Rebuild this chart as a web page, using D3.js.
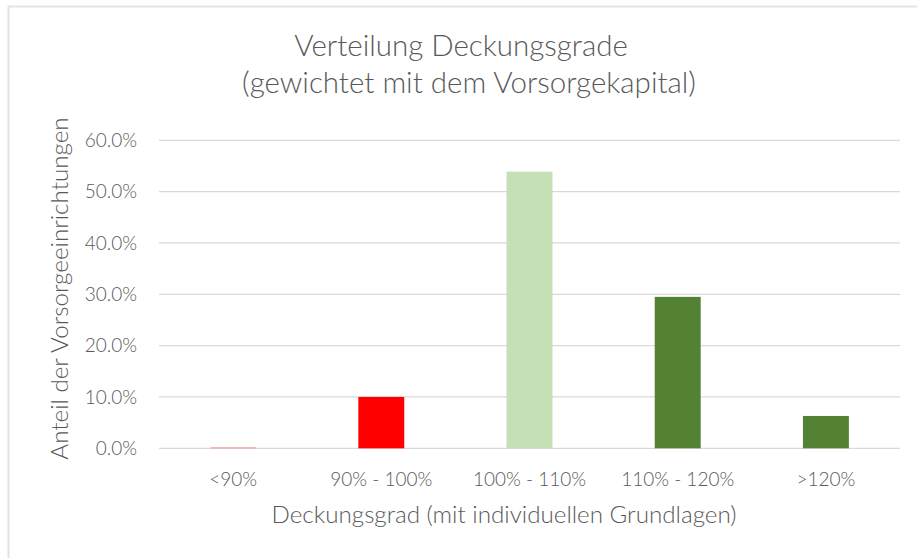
<!DOCTYPE html>
<html>
<head>
<meta charset="utf-8">
<script src="https://cdn.jsdelivr.net/npm/d3@7"></script>
<style>
  body { margin: 0; background: #fff; }
  svg text { font-family: Lato, "Open Sans", sans-serif; font-weight: 300; fill: #595959; }
</style>
</head>
<body>
<script>
// categories and values (share in %)
const categories = ["<90%", "90% - 100%", "100% - 110%", "110% - 120%", ">120%"];
const shares = [0.2, 10.0, 53.9, 29.5, 6.3];
const barColors = ["#FF0000", "#FF0000", "#C5E0B4", "#548235", "#548235"];
const yTicks = [0, 10, 20, 30, 40, 50, 60];
const titleLines = ["Verteilung Deckungsgrade", "(gewichtet mit dem Vorsorgekapital)"];

const width = 917, height = 558;
const plot = { left: 159, right: 900, top: 140.3, bottom: 448.3 };

const svg = d3.select("body").append("svg")
  .attr("width", width)
  .attr("height", height);

// chart frame (only top and left edge visible)
svg.append("path")
  .attr("d", `M8.5,${height} V6.5 H${width}`)
  .attr("fill", "none")
  .attr("stroke", "#e3e3e3")
  .attr("stroke-width", 2);

const x = d3.scaleBand()
  .domain(categories)
  .range([plot.left, plot.right])
  .paddingInner(0.69)
  .paddingOuter(0.345);

const y = d3.scaleLinear()
  .domain([0, 60])
  .range([plot.bottom, plot.top]);

// gridlines
svg.append("g")
  .selectAll("line")
  .data(yTicks)
  .join("line")
  .attr("x1", plot.left)
  .attr("x2", plot.right)
  .attr("y1", d => y(d))
  .attr("y2", d => y(d))
  .attr("stroke", "#d9d9d9")
  .attr("stroke-width", 1.3);

// y tick labels
svg.append("g")
  .selectAll("text")
  .data(yTicks)
  .join("text")
  .attr("x", 137)
  .attr("y", d => y(d))
  .attr("dy", "0.35em")
  .attr("text-anchor", "end")
  .attr("font-size", 19)
  .text(d => d.toFixed(1) + "%");

// bars
svg.append("g")
  .selectAll("rect")
  .data(shares)
  .join("rect")
  .attr("x", (d, i) => x(categories[i]))
  .attr("width", x.bandwidth())
  .attr("y", d => y(d))
  .attr("height", d => y(0) - y(d))
  .attr("fill", (d, i) => barColors[i])
  .attr("opacity", (d, i) => i === 0 ? 0.35 : 1);

// x tick labels
svg.append("g")
  .selectAll("text")
  .data(categories)
  .join("text")
  .attr("x", d => x(d) + x.bandwidth() / 2)
  .attr("y", 486)
  .attr("text-anchor", "middle")
  .attr("font-size", 19)
  .text(d => d);

// title
svg.append("text")
  .attr("text-anchor", "middle")
  .attr("font-size", 29.5)
  .selectAll("tspan")
  .data(titleLines)
  .join("tspan")
  .attr("x", (d, i) => i === 0 ? 461 : 469)
  .attr("y", (d, i) => 56 + i * 37)
  .text(d => d);

// axis titles
svg.append("text")
  .attr("x", 504)
  .attr("y", 523)
  .attr("text-anchor", "middle")
  .attr("font-size", 24.2)
  .text("Deckungsgrad (mit individuellen Grundlagen)");

svg.append("text")
  .attr("transform", "translate(68,288.5) rotate(-90)")
  .attr("text-anchor", "middle")
  .attr("font-size", 24.2)
  .text("Anteil der Vorsorgeeinrichtungen");
</script>
</body>
</html>
